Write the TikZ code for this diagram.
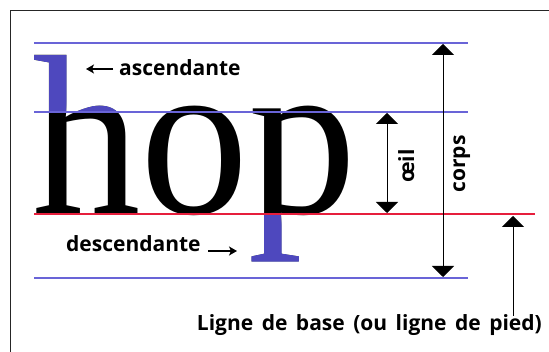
\documentclass[tikz,border=0pt]{standalone}
\usepackage{fontspec}
\setmainfont{Liberation Serif}
\newfontfamily\labelfont{Open Sans}
\usetikzlibrary{arrows.meta}
\definecolor{lineblue}{RGB}{105,100,215}
\definecolor{fillblue}{RGB}{78,72,190}
\definecolor{basered}{RGB}{230,30,60}
\begin{document}
\begin{tikzpicture}[x=1pt,y=-1pt,
  guide/.style={line width=1.1pt},
  dim/.style={line width=1pt,{Triangle[width=22pt,length=11pt]}-{Triangle[width=22pt,length=11pt]}},
  onedim/.style={line width=1pt,-{Triangle[width=22pt,length=11pt]}},
  small/.style={line width=1.1pt,-{Stealth[length=8pt,width=9pt,inset=2pt]}},
  lbl/.style={font=\labelfont\bfseries\fontsize{21}{25}\selectfont,inner sep=0pt},
  hoptext/.style={font=\fontsize{228}{228}\selectfont,inner sep=0pt,anchor=base west,xscale=0.95}
]
\fill[white] (0,0) rectangle (549,352);
\useasboundingbox (0,0) rectangle (549,352);
% frame
\coordinate (fbl) at (10,352);
\coordinate (ftl) at (10,11);
\coordinate (ftr) at (549,11);
\draw[line width=1pt,black!85] (fbl) -- (ftl) -- (ftr);
% big word, ascender and descender tinted blue
\node[hoptext] (hop) at (32,214) {hop};
\begin{scope}[blend mode=lighten]
  \fill[fillblue] (20,30) rectangle (140,112);
  \fill[fillblue] (235,214) rectangle (340,275);
\end{scope}
% guide lines
\coordinate (a1) at (34,43);  \coordinate (a2) at (468,43);
\coordinate (x1) at (34,112); \coordinate (x2) at (468,112);
\coordinate (b1) at (34,214); \coordinate (b2) at (535,214);
\coordinate (d1) at (34,278); \coordinate (d2) at (468,278);
\draw[guide,lineblue] (a1) -- (a2);
\draw[guide,lineblue] (x1) -- (x2);
\draw[guide,basered] (b1) -- (b2);
\draw[guide,lineblue] (d1) -- (d2);
% dimension arrows
\coordinate (o1) at (387,113); \coordinate (o2) at (387,213);
\draw[dim] (o1) -- (o2);
\coordinate (c1) at (443,44); \coordinate (c2) at (443,277);
\draw[dim] (c1) -- (c2);
\node[lbl,rotate=90,anchor=base] (oeil) at (414,166) {œil};
\node[lbl,rotate=90,anchor=base] (corps) at (465,164) {corps};
% labels
\node[lbl,anchor=base west] (asc) at (119,76) {ascendante};
\coordinate (ascs) at (113,69);
\coordinate (ascp) at (86,69);
\draw[small] (ascs) -- (ascp);
\node[lbl,anchor=base west] (desc) at (66,252) {descendante};
\coordinate (descs) at (208,251);
\coordinate (descp) at (237,251);
\draw[small] (descs) -- (descp);
\node[lbl,anchor=base east] (base) at (542,331) {\spaceskip=8.5pt Ligne de base (ou ligne de pied)};
\coordinate (bt) at (513,216);
\coordinate (bs) at (513,316);
\draw[onedim] (bs) -- (bt);
\end{tikzpicture}
\end{document}
